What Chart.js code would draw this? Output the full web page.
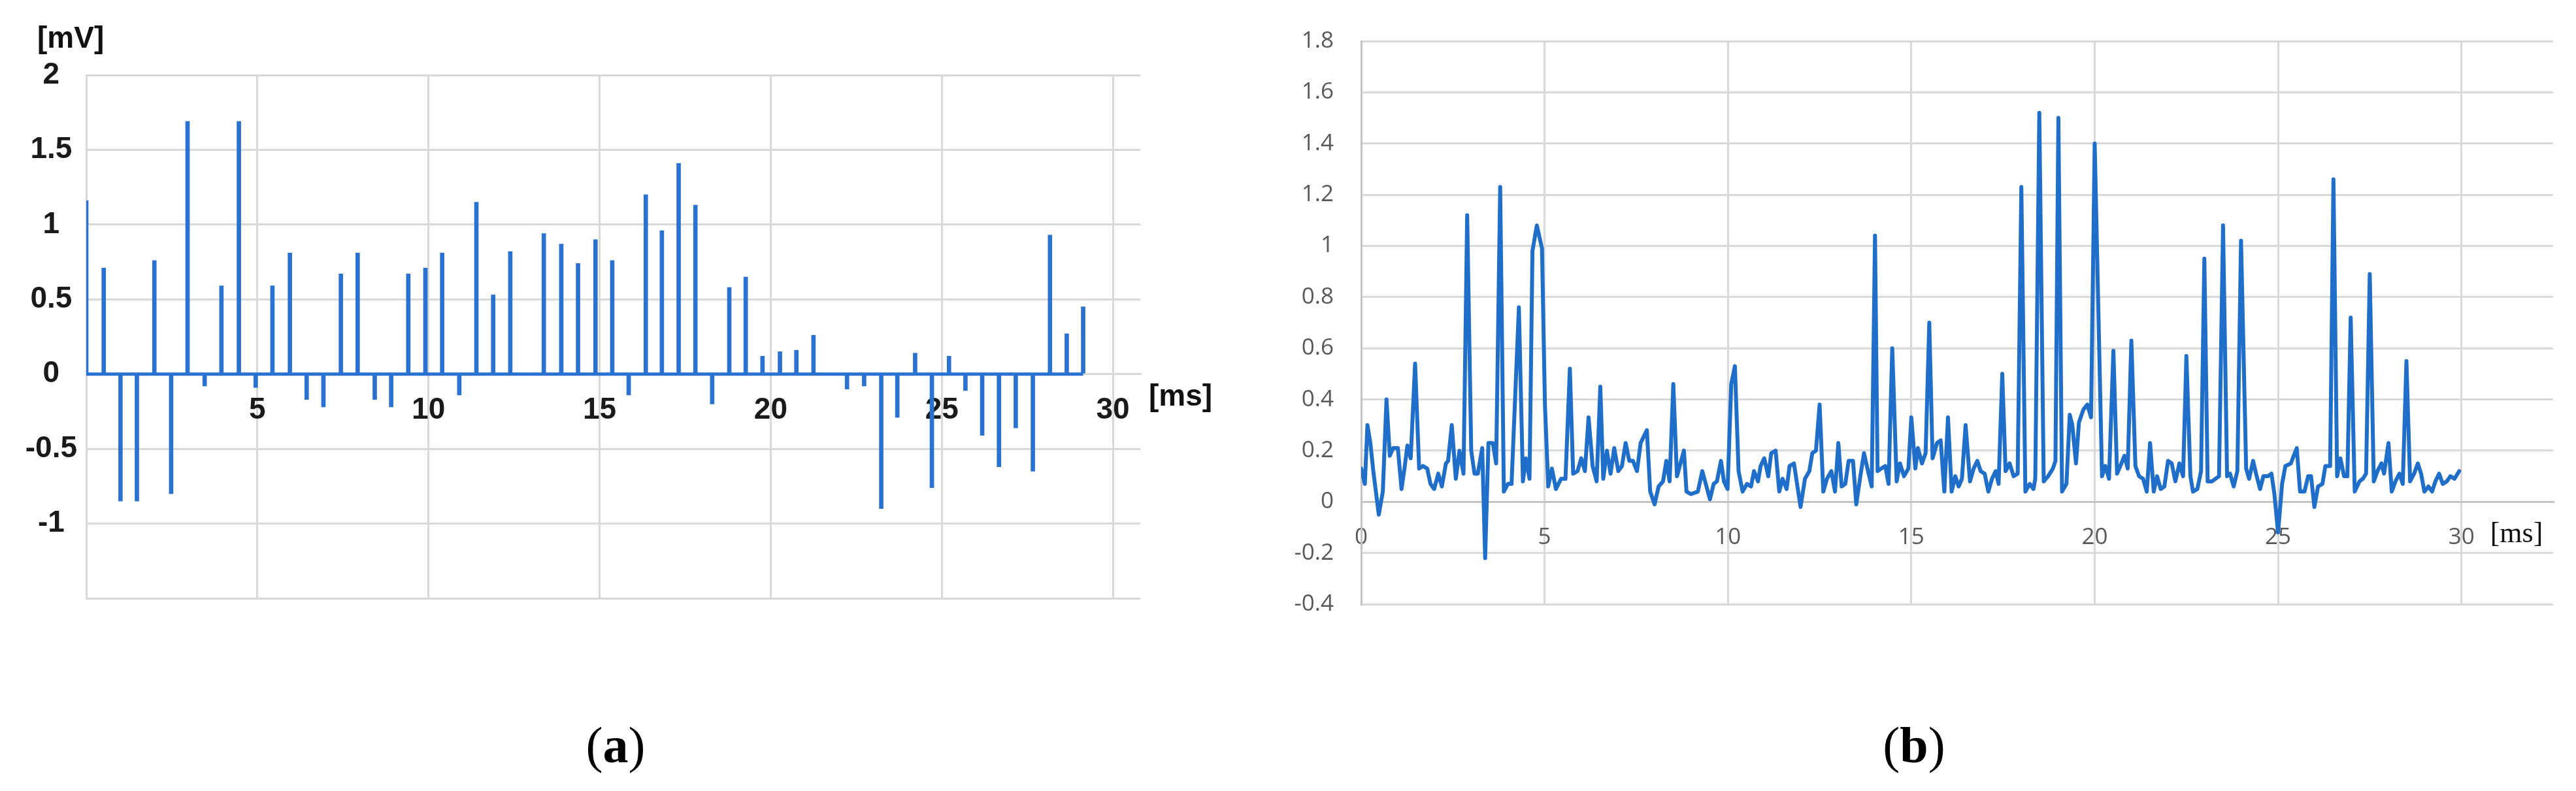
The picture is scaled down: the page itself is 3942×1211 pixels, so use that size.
<!DOCTYPE html>
<html>
<head>
<meta charset="utf-8">
<script src="https://cdn.jsdelivr.net/npm/chart.js"></script>
<style>
    html, body { margin: 0; padding: 0; background: #ffffff; }
    body { width: 3942px; height: 1211px; position: relative; overflow: hidden; }
    .panel { position: absolute; top: 0; }
    .caption {
        position: absolute; top: 1102px; width: 200px; text-align: center;
        font-family: "Liberation Serif", "DejaVu Serif", serif; font-size: 78px; line-height: 78px; color: #000;
    }
    .caption b { font-weight: bold; }
</style>
</head>
<body>
<div class="panel" style="left:0; width:1900px; height:1000px;">
    <canvas id="chart-a" width="1900" height="1000"></canvas>
</div>
<div class="panel" style="left:1900px; width:2042px; height:1000px;">
    <canvas id="chart-b" width="2042" height="1000"></canvas>
</div>
<div class="caption" style="left:842px;">(<b>a</b>)</div>
<div class="caption" style="left:2829px;">(<b>b</b>)</div>

<script>
    // (a) spike train: time of each spike [ms] and its amplitude [mV]
    const aTimes = [0.00, 0.51, 1.00, 1.48, 1.99, 2.48, 2.96, 3.46, 3.95, 4.46, 4.95, 5.44, 5.95, 6.44, 6.93,
        7.44, 7.93, 8.43, 8.91, 9.41, 9.91, 10.40, 10.90, 11.40, 11.89, 12.39, 13.37, 13.88, 14.37, 14.88,
        15.37, 15.85, 16.35, 16.82, 17.31, 17.80, 18.29, 18.79, 19.27, 19.76, 20.27, 20.75, 21.25, 22.23,
        22.73, 23.23, 23.70, 24.22, 24.71, 25.21, 25.69, 26.18, 26.67, 27.16, 27.66, 28.16, 28.65, 29.13];
    const aValues = [1.16, 0.71, -0.85, -0.85, 0.76, -0.80, 1.69, -0.08, 0.59, 1.69, -0.09, 0.59, 0.81, -0.17, -0.22,
        0.67, 0.81, -0.17, -0.22, 0.67, 0.71, 0.81, -0.14, 1.15, 0.53, 0.82, 0.94, 0.87, 0.74, 0.90,
        0.76, -0.14, 1.20, 0.96, 1.41, 1.13, -0.20, 0.58, 0.65, 0.12, 0.15, 0.16, 0.26, -0.10,
        -0.08, -0.90, -0.29, 0.14, -0.76, 0.12, -0.11, -0.41, -0.62, -0.36, -0.65, 0.93, 0.27, 0.45];
    const aXTicks = [0, 5, 10, 15, 20, 25, 30];
    const aYTicks = [-1.5, -1, -0.5, 0, 0.5, 1, 1.5, 2];

    // (b) sampled signal: time [ms] and value
    const bTimes = [0.00, 0.10, 0.17, 0.25, 0.33, 0.48, 0.59, 0.69, 0.78, 0.87, 1.00, 1.10, 1.18, 1.26, 1.35, 1.47,
        1.58, 1.68, 1.80, 1.89, 1.99, 2.10, 2.20, 2.31, 2.37, 2.47, 2.58, 2.68, 2.79, 2.89, 3.00, 3.09, 3.18, 3.30,
        3.38, 3.47, 3.59, 3.68, 3.79, 3.89, 4.00, 4.10, 4.30, 4.41, 4.49, 4.59, 4.67, 4.79, 4.93, 5.01, 5.10, 5.20,
        5.31, 5.45, 5.57, 5.69, 5.78, 5.90, 6.00, 6.10, 6.20, 6.31, 6.42, 6.52, 6.60, 6.70, 6.80, 6.90, 7.01, 7.11,
        7.21, 7.31, 7.41, 7.52, 7.62, 7.79, 7.88, 8.00, 8.11, 8.23, 8.32, 8.41, 8.51, 8.61, 8.80, 8.87, 8.99, 9.18,
        9.30, 9.51, 9.61, 9.70, 9.81, 9.89, 9.99, 10.09, 10.19, 10.29, 10.40, 10.52, 10.63, 10.71, 10.82, 10.89,
        10.99, 11.10, 11.18, 11.30, 11.40, 11.49, 11.60, 11.68, 11.80, 11.98, 12.10, 12.22, 12.30, 12.40, 12.50,
        12.60, 12.70, 12.82, 12.92, 13.01, 13.10, 13.20, 13.29, 13.41, 13.50, 13.61, 13.71, 13.82, 13.92, 14.01,
        14.08, 14.18, 14.29, 14.38, 14.48, 14.60, 14.69, 14.80, 14.92, 15.00, 15.11, 15.18, 15.29, 15.39, 15.49,
        15.58, 15.70, 15.80, 15.90, 16.00, 16.10, 16.20, 16.29, 16.38, 16.48, 16.60, 16.70, 16.80, 16.89, 17.00,
        17.10, 17.20, 17.30, 17.38, 17.48, 17.57, 17.68, 17.79, 17.90, 18.00, 18.11, 18.23, 18.33, 18.38, 18.49,
        18.61, 18.73, 18.86, 18.93, 19.01, 19.11, 19.23, 19.32, 19.39, 19.49, 19.57, 19.69, 19.80, 19.90, 20.00,
        20.20, 20.29, 20.39, 20.51, 20.61, 20.70, 20.81, 20.90, 21.00, 21.11, 21.21, 21.32, 21.42, 21.51, 21.61,
        21.70, 21.80, 21.90, 22.00, 22.10, 22.20, 22.31, 22.41, 22.50, 22.61, 22.68, 22.80, 22.90, 22.99, 23.08,
        23.20, 23.39, 23.50, 23.61, 23.69, 23.79, 23.89, 23.99, 24.13, 24.21, 24.32, 24.40, 24.51, 24.60, 24.72,
        24.82, 24.90, 25.00, 25.11, 25.20, 25.35, 25.40, 25.51, 25.60, 25.72, 25.82, 25.90, 25.99, 26.09, 26.21,
        26.29, 26.42, 26.51, 26.61, 26.70, 26.80, 26.89, 26.98, 27.09, 27.22, 27.31, 27.40, 27.50, 27.61, 27.71,
        27.82, 27.89, 28.01, 28.10, 28.20, 28.31, 28.40, 28.50, 28.60, 28.71, 28.81, 28.90, 28.99, 29.10, 29.20,
        29.29, 29.39, 29.49, 29.60, 29.70, 29.81, 29.94];
    const bValues = [0.13, 0.07, 0.30, 0.23, 0.12, -0.05, 0.04, 0.40, 0.18, 0.21, 0.21, 0.05, 0.13, 0.22, 0.17, 0.54,
        0.13, 0.14, 0.13, 0.07, 0.05, 0.11, 0.06, 0.15, 0.16, 0.30, 0.09, 0.20, 0.11, 1.12, 0.20, 0.11, 0.11, 0.21,
        -0.22, 0.23, 0.23, 0.15, 1.23, 0.04, 0.07, 0.07, 0.76, 0.08, 0.17, 0.09, 0.98, 1.08, 0.99, 0.38, 0.06, 0.13,
        0.05, 0.09, 0.09, 0.52, 0.11, 0.12, 0.17, 0.12, 0.33, 0.14, 0.08, 0.45, 0.09, 0.20, 0.11, 0.21, 0.12, 0.14,
        0.23, 0.16, 0.16, 0.12, 0.23, 0.28, 0.04, -0.01, 0.06, 0.08, 0.16, 0.08, 0.46, 0.10, 0.20, 0.04, 0.03, 0.04,
        0.12, 0.01, 0.07, 0.08, 0.16, 0.08, 0.05, 0.46, 0.53, 0.12, 0.04, 0.07, 0.06, 0.12, 0.08, 0.14,
        0.17, 0.10, 0.19, 0.20, 0.04, 0.09, 0.05, 0.14, 0.15, -0.02, 0.09, 0.12, 0.19, 0.20, 0.38,
        0.04, 0.09, 0.12, 0.04, 0.23, 0.06, 0.07, 0.16, 0.16, -0.01, 0.10, 0.19, 0.12, 0.06, 1.04,
        0.12, 0.13, 0.14, 0.07, 0.60, 0.08, 0.15, 0.10, 0.13, 0.33, 0.13, 0.21, 0.15, 0.19, 0.70,
        0.17, 0.23, 0.24, 0.04, 0.33, 0.04, 0.10, 0.06, 0.09, 0.30, 0.08, 0.13, 0.16, 0.12, 0.11,
        0.04, 0.09, 0.12, 0.07, 0.50, 0.12, 0.15, 0.10, 0.11, 1.23, 0.04, 0.07, 0.05, 0.09, 1.52,
        0.08, 0.10, 0.13, 0.16, 1.50, 0.04, 0.07, 0.34, 0.30, 0.15, 0.31, 0.36, 0.38, 0.33, 1.40,
        0.10, 0.14, 0.09, 0.59, 0.11, 0.14, 0.18, 0.13, 0.63, 0.14, 0.10, 0.09, 0.04, 0.23, 0.04,
        0.10, 0.05, 0.06, 0.16, 0.15, 0.08, 0.15, 0.10, 0.57, 0.10, 0.04, 0.05, 0.12, 0.95, 0.08,
        0.08, 0.10, 1.08, 0.10, 0.11, 0.06, 0.12, 1.02, 0.13, 0.09, 0.16, 0.11, 0.05, 0.10, 0.10,
        0.11, 0.03, -0.12, 0.07, 0.14, 0.15, 0.17, 0.21, 0.04, 0.04, 0.10, 0.10, -0.02, 0.06, 0.07,
        0.14, 0.14, 1.26, 0.10, 0.17, 0.10, 0.10, 0.72, 0.04, 0.08, 0.09, 0.11, 0.89, 0.08, 0.12,
        0.15, 0.11, 0.23, 0.04, 0.08, 0.11, 0.07, 0.55, 0.08, 0.11, 0.15, 0.11, 0.04, 0.06, 0.04,
        0.08, 0.11, 0.07, 0.08, 0.10, 0.09, 0.12];
    const bXTicks = [0, 5, 10, 15, 20, 25, 30];
    const bYTicks = [-0.4, -0.2, 0, 0.2, 0.4, 0.6, 0.8, 1, 1.2, 1.4, 1.6, 1.8];

    const fmt = (v) => String(parseFloat(Number(v).toFixed(1)));

    // unit labels drawn next to the axes
    const unitLabels = {
        id: 'unitLabels',
        afterDraw(chart, args, opts) {
            const ctx = chart.ctx;
            const xs = chart.scales.x, ys = chart.scales.y;
            const zero = ys.getPixelForValue(0);
            ctx.save();
            ctx.fillStyle = '#111';
            ctx.textBaseline = 'middle';
            ctx.textAlign = 'left';
            ctx.font = opts.msFont;
            ctx.fillText('[ms]', xs.getPixelForValue(opts.msAt) + opts.msDx, zero + opts.msDy);
            if (opts.mv) {
                ctx.font = opts.mvFont;
                ctx.fillText('[mV]', opts.mvX, ys.top - 55);
            }
            ctx.restore();
        }
    };

    function setTicks(list) {
        return (scale) => { scale.ticks = list.map(v => ({ value: v })); };
    }

    function drawChartA() {
        const spikes = aTimes.map((t, i) => ({ x: t, y: aValues[i] }));
        const baseline = [{ x: aTimes[0], y: 0 }, { x: aTimes[aTimes.length - 1], y: 0 }];
        const font = { family: '"Liberation Sans", Arial, sans-serif', size: 46, weight: 'bold' };

        new Chart(document.getElementById('chart-a'), {
            data: {
                datasets: [
                    { type: 'line', data: baseline, borderColor: '#2a72d2', borderWidth: 5, pointRadius: 0 },
                    { type: 'bar', data: spikes, backgroundColor: '#2a72d2', barThickness: 6, grouped: false }
                ]
            },
            options: {
                responsive: false,
                animation: false,
                devicePixelRatio: 1,
                layout: { padding: { left: 36, top: 115, right: 155, bottom: 84 } },
                plugins: {
                    legend: { display: false },
                    tooltip: { enabled: false },
                    unitLabels: { msAt: 30.8, msDx: 13, msDy: 36, msFont: 'bold 46px "Liberation Sans", Arial', mv: true, mvX: 57, mvFont: 'bold 46px "Liberation Sans", Arial' }
                },
                scales: {
                    x: {
                        type: 'linear', position: { y: 0 }, min: 0, max: 30.8, offset: false,
                        afterBuildTicks: setTicks(aXTicks),
                        grid: { color: '#d9d9d9', lineWidth: 3, drawTicks: false, offset: false },
                        border: { display: true, color: '#d9d9d9', width: 3 },
                        ticks: { font: font, color: '#1a1a1a', padding: 28, maxRotation: 0, callback: v => v === 0 ? '' : v }
                    },
                    y: {
                        type: 'linear', min: -1.5, max: 2,
                        afterBuildTicks: setTicks(aYTicks),
                        afterFit: (s) => { s.width = 96; },
                        grid: { color: '#d9d9d9', lineWidth: 3, drawTicks: false },
                        border: { display: true, color: '#d9d9d9', width: 3 },
                        ticks: { font: font, color: '#1a1a1a', padding: 14, crossAlign: 'center', callback: v => v === -1.5 ? '' : fmt(v) }
                    }
                }
            },
            plugins: [unitLabels]
        });
    }

    function drawChartB() {
        const points = bTimes.map((t, i) => ({ x: t, y: bValues[i] }));
        const font = { family: '"Open Sans", "Noto Sans", sans-serif', size: 35 };

        new Chart(document.getElementById('chart-b'), {
            type: 'line',
            data: {
                datasets: [{
                    data: points, borderColor: '#1f6fca', borderWidth: 6, pointRadius: 0,
                    tension: 0, borderJoinStyle: 'round', borderCapStyle: 'round'
                }]
            },
            options: {
                responsive: false,
                animation: false,
                devicePixelRatio: 1,
                layout: { padding: { left: 40, top: 40, right: 35, bottom: 75 } },
                plugins: {
                    legend: { display: false },
                    tooltip: { enabled: false },
                    unitLabels: { msAt: 30, msDx: 44, msDy: 50, msFont: '44px "Liberation Serif", "Times New Roman", serif', mv: false }
                },
                scales: {
                    x: {
                        type: 'linear', position: { y: 0 }, min: 0, max: 32.5,
                        afterBuildTicks: setTicks(bXTicks),
                        grid: { color: (c) => c.tick && c.tick.value === 0 ? '#c4c4c4' : '#d9d9d9', lineWidth: 3, drawTicks: false },
                        border: { display: true, color: '#c4c4c4', width: 3 },
                        ticks: { font: font, color: '#595959', padding: 34, maxRotation: 0 }
                    },
                    y: {
                        type: 'linear', min: -0.4, max: 1.8,
                        afterBuildTicks: setTicks(bYTicks),
                        afterFit: (s) => { s.width = 143; },
                        grid: { color: (c) => c.tick && Math.abs(c.tick.value) < 1e-9 ? '#c4c4c4' : '#d9d9d9', lineWidth: 3, drawTicks: false },
                        border: { display: true, color: '#c4c4c4', width: 3 },
                        ticks: { font: font, color: '#595959', padding: 42, callback: v => fmt(v) }
                    }
                }
            },
            plugins: [unitLabels]
        });
    }

    drawChartA();
    drawChartB();
</script>
</body>
</html>
